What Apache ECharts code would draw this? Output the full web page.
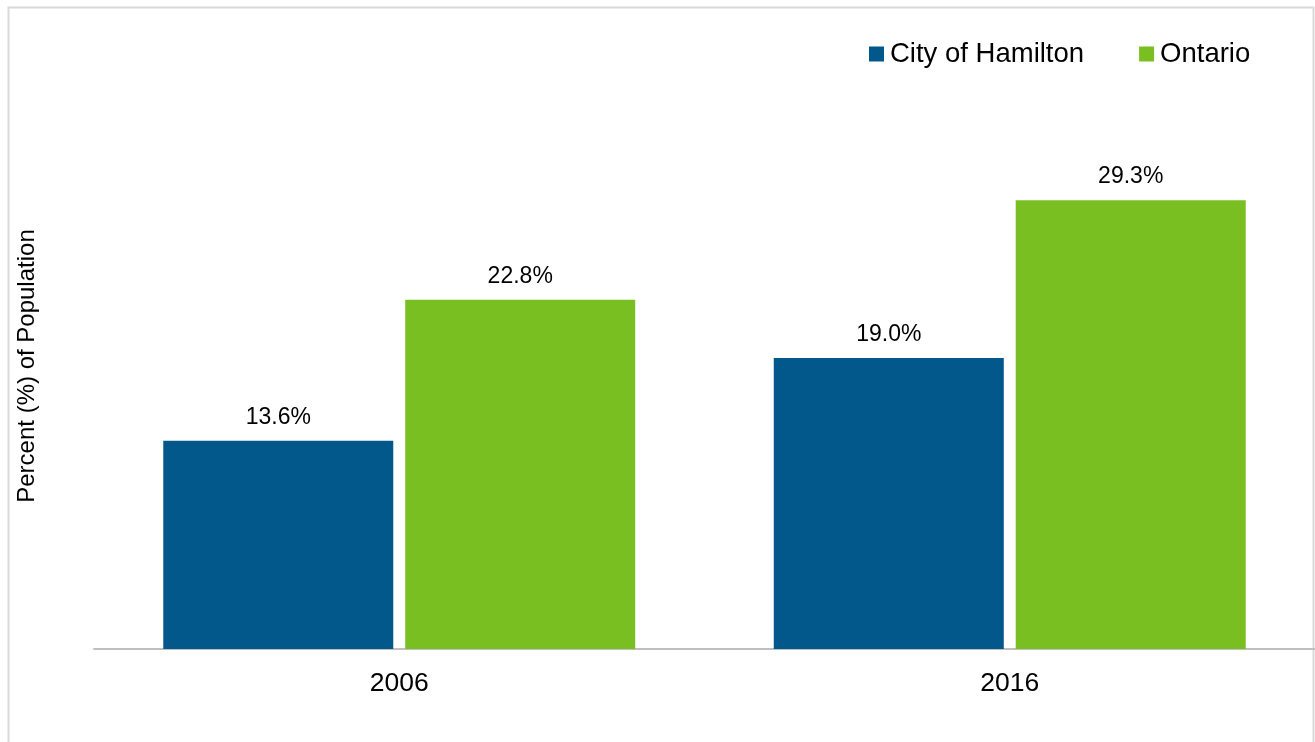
<!DOCTYPE html>
<html>
<head>
<meta charset="utf-8">
<script src="https://cdn.jsdelivr.net/npm/echarts@6/dist/echarts.min.js"></script>
<style>html,body{margin:0;padding:0;background:#fff}#c{width:1315px;height:742px}</style>
</head>
<body>
<div id="c"></div>
<script>
const categories = ['2006', '2016'];
const hamilton = [13.6, 19.0];
const ontario = [22.8, 29.3];
const seriesNames = ['City of Hamilton', 'Ontario'];
const yAxisTitle = 'Percent (%) of Population';

const chart = echarts.init(document.getElementById('c'));
const font = 'Liberation Sans, Arial, sans-serif';
chart.setOption({
  backgroundColor: '#fff',
  animation: false,
  graphic: [{
    type: 'polyline',
    shape: { points: [[8.5, 742], [8.5, 7.5], [1313.5, 7.5], [1313.5, 742]] },
    style: { stroke: '#d9d9d9', lineWidth: 2, fill: null },
    z: -1
  }, {
    type: 'text',
    x: 27, y: 366,
    rotation: Math.PI / 2,
    style: { text: yAxisTitle, fontFamily: font, fontSize: 24, fill: '#000',
      align: 'center', verticalAlign: 'middle' }
  }],
  legend: {
    data: seriesNames,
    left: 864, top: 35,
    icon: 'rect', itemWidth: 15, itemHeight: 15, itemGap: 55,
    textStyle: { fontFamily: font, fontSize: 27.5, color: '#000', padding: [0, 0, 0, 1] }
  },
  grid: { left: 94, right: 0, top: 113, bottom: 93, containLabel: false },
  xAxis: {
    type: 'category', data: categories,
    axisLine: { lineStyle: { color: '#bfbfbf', width: 2 } },
    axisTick: { show: false },
    axisLabel: { fontFamily: font, fontSize: 26.5, color: '#000', margin: 21 }
  },
  yAxis: {
    type: 'value', min: 0, max: 35,
    axisLine: { show: false }, axisTick: { show: false },
    axisLabel: { show: false }, splitLine: { show: false }
  },
  series: [
    { name: seriesNames[0], type: 'bar', data: hamilton, barWidth: 230, barGap: '5.2%',
      itemStyle: { color: '#02578B' },
      label: { show: true, position: 'top', distance: 12, fontFamily: font, fontSize: 23, color: '#000',
        formatter: p => p.value.toFixed(1) + '%' } },
    { name: seriesNames[1], type: 'bar', data: ontario, barWidth: 230, barGap: '5.2%',
      itemStyle: { color: '#7ABF22' },
      label: { show: true, position: 'top', distance: 12, fontFamily: font, fontSize: 23, color: '#000',
        formatter: p => p.value.toFixed(1) + '%' } }
  ]
});
</script>
</body>
</html>
